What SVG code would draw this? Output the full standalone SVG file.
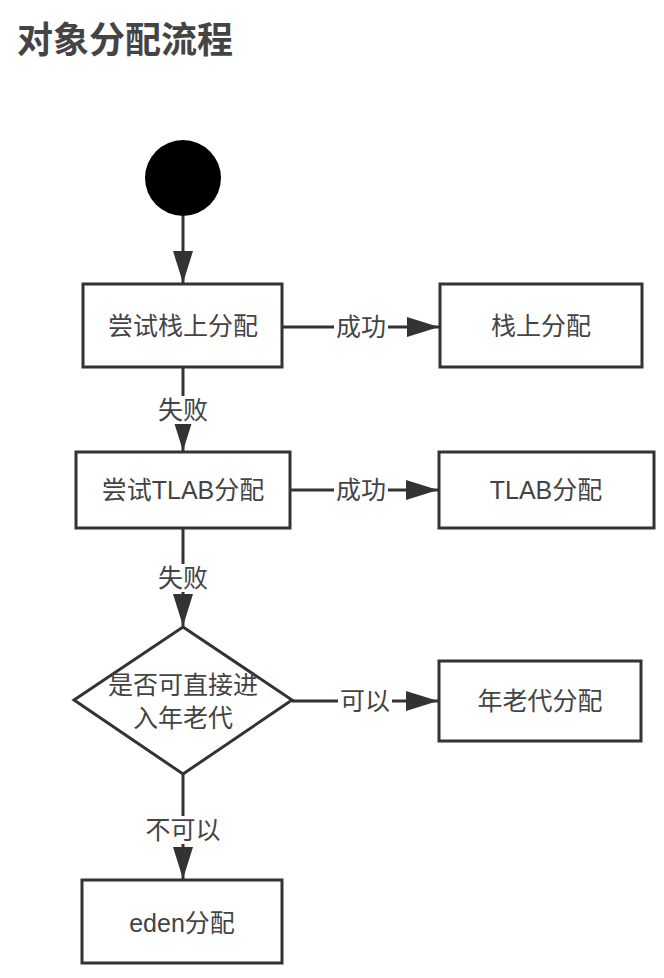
<svg xmlns="http://www.w3.org/2000/svg" width="664" height="978" viewBox="0 0 664 978">
<style>
text{font-family:"Liberation Sans","Noto Sans CJK SC",sans-serif;fill:#444;font-size:25px;text-anchor:middle;dominant-baseline:central}
.title{font-size:36px;font-weight:bold;text-anchor:start;dominant-baseline:auto;fill:#444}
.box{fill:#fff;stroke:#333;stroke-width:3}
.line{fill:none;stroke:#333;stroke-width:3}
.lbl{fill:#fff;stroke:none}
</style>
<defs>
<marker id="arr" markerUnits="userSpaceOnUse" markerWidth="32" markerHeight="20" viewBox="0 0 32 20" refX="32" refY="10" orient="auto">
<path d="M0,0 L32,10 L0,20 Z" fill="#333"/>
</marker>
</defs>
<rect width="664" height="978" fill="#fff"/>
<text class="title" x="17" y="53">对象分配流程</text>
<g id="connectors">
<path class="line" d="M183,216 V283" marker-end="url(#arr)"/>
<path class="line" d="M282,327 H439" marker-end="url(#arr)"/>
<rect class="lbl" x="334" y="313" width="54" height="28"/>
<text x="361" y="327">成功</text>
<path class="line" d="M183,367 V451" marker-end="url(#arr)"/>
<rect class="lbl" x="155" y="396" width="56" height="28"/>
<text x="183" y="410">失败</text>
<path class="line" d="M290,490 H438" marker-end="url(#arr)"/>
<rect class="lbl" x="334" y="476" width="54" height="28"/>
<text x="361" y="490">成功</text>
<path class="line" d="M183,528 V626" marker-end="url(#arr)"/>
<rect class="lbl" x="155" y="564" width="56" height="28"/>
<text x="183" y="578">失败</text>
<path class="line" d="M292,701 H438" marker-end="url(#arr)"/>
<rect class="lbl" x="338" y="687" width="54" height="28"/>
<text x="365" y="701">可以</text>
<path class="line" d="M183,774 V879" marker-end="url(#arr)"/>
<rect class="lbl" x="141" y="816" width="84" height="28"/>
<text x="183" y="830">不可以</text>
</g>
<g id="start"><circle cx="183" cy="178" r="38" fill="#000"/></g>
<g id="try-stack"><rect class="box" x="83" y="284" width="199" height="83"/><text x="183" y="326">尝试栈上分配</text></g>
<g id="stack-alloc"><rect class="box" x="440" y="284" width="202" height="83"/><text x="541" y="326">栈上分配</text></g>
<g id="try-tlab"><rect class="box" x="76" y="452" width="214" height="76"/><text x="183" y="490">尝试TLAB分配</text></g>
<g id="tlab-alloc"><rect class="box" x="439" y="452" width="215" height="76"/><text x="546" y="490">TLAB分配</text></g>
<g id="decision"><path class="box" d="M183,627 L292,700 L183,774 L74,700 Z"/><text x="183" y="685">是否可直接进</text><text x="183" y="718">入年老代</text></g>
<g id="old-alloc"><rect class="box" x="439" y="661" width="202" height="80"/><text x="540" y="701">年老代分配</text></g>
<g id="eden-alloc"><rect class="box" x="82" y="880" width="200" height="83"/><text x="182" y="923">eden分配</text></g>
</svg>
